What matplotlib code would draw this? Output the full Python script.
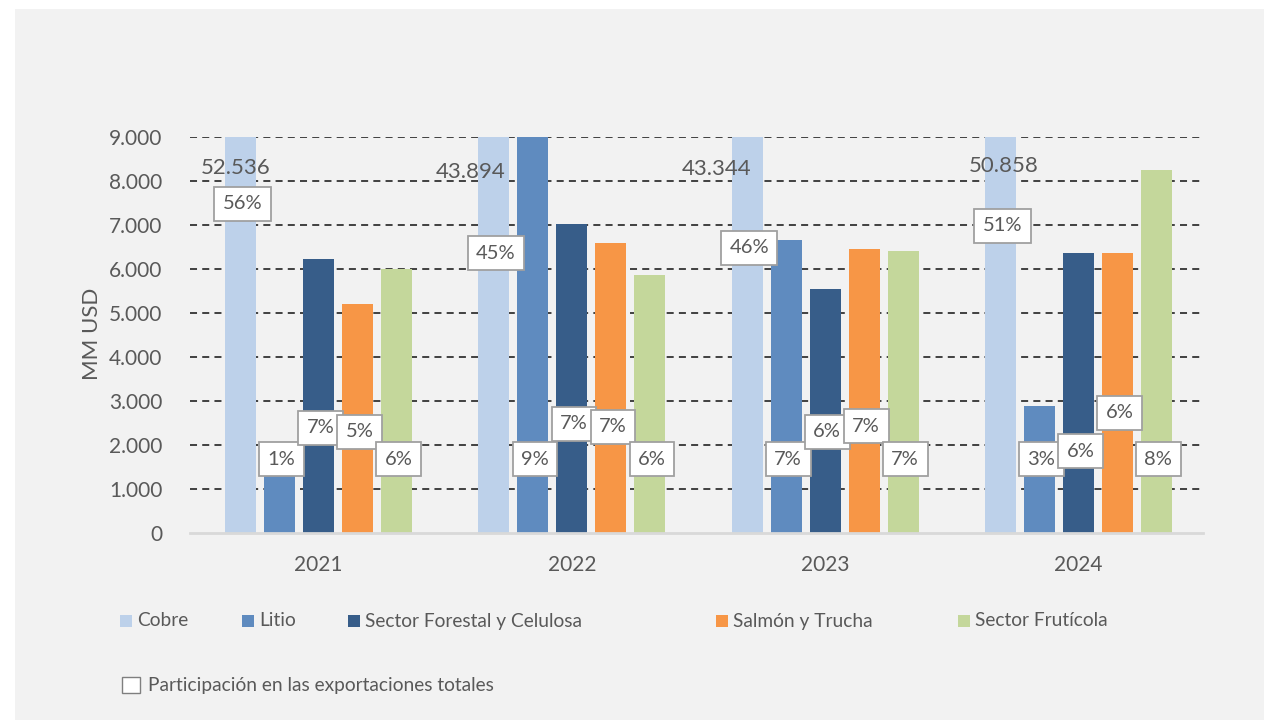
import numpy as np
import matplotlib
matplotlib.use("Agg")
import matplotlib.pyplot as plt
from matplotlib.patches import Rectangle

plt.rcParams["font.family"] = ["Lato", "DejaVu Sans"]

# data (MM USD); Cobre bars run off the top of the axis
years = ["2021", "2022", "2023", "2024"]
series = ["Cobre", "Litio", "Sector Forestal y Celulosa", "Salmón y Trucha", "Sector Frutícola"]
cobre = [52536, 43894, 43344, 50858]
litio = [1400, 9000, 6650, 2890]
forestal = [6220, 7020, 5550, 6360]
salmon = [5200, 6600, 6450, 6360]
fruticola = [6000, 5860, 6420, 8250]
# share of total exports (%)
share_cobre = [56, 45, 46, 51]
share_litio = [1, 9, 7, 3]
share_forestal = [7, 7, 6, 6]
share_salmon = [5, 7, 7, 6]
share_fruticola = [6, 6, 7, 8]

colors = ["#bdd1ea", "#5f8bbf", "#375d89", "#f79646", "#c4d79b"]
TEXT = "#595959"

W, H = 1265, 720
fig = plt.figure(figsize=(W / 100, H / 100), dpi=100)
fig.patch.set_facecolor("white")
fig.patches.append(Rectangle((15 / W, 0), (W - 16) / W, (H - 9) / H,
                             transform=fig.transFigure, facecolor="#f2f2f2",
                             edgecolor="none", zorder=-5))


def px(x, y):
    return x / W, 1 - y / H


x0, x1, ytop, ybot = 190, 1203, 137, 533
ax = fig.add_axes([x0 / W, 1 - ybot / H, (x1 - x0) / W, (ybot - ytop) / H])
ax.set_facecolor("none")
ax.set_zorder(1)

groups = np.arange(len(years))
step = 0.154
width = 0.122
vals = [cobre, litio, forestal, salmon, fruticola]
shares = [share_cobre, share_litio, share_forestal, share_salmon, share_fruticola]

for i, (v, c) in enumerate(zip(vals, colors)):
    ax.bar(groups + (i - 2) * step, v, width=width, color=c, zorder=3, label=series[i])

ax.set_xlim(-0.508, 3.492)
ax.set_ylim(0, 9000)
ax.set_yticks(np.arange(0, 9001, 1000))
ax.set_yticklabels([f"{t:,}".replace(",", ".") for t in range(0, 9001, 1000)],
                   fontsize=15, color=TEXT)
ax.set_xticks(groups)
ax.set_xticklabels(years, fontsize=15, color=TEXT)
ax.tick_params(axis="both", length=0)
ax.tick_params(axis="y", pad=20)
ax.tick_params(axis="x", pad=16)

for t in range(1000, 9001, 1000):
    ax.axhline(t, color="#111111", lw=1.1, dashes=(4.6, 3.4), zorder=1)
for s in ["top", "right", "left"]:
    ax.spines[s].set_visible(False)
ax.spines["bottom"].set_color("#d9d9d9")
ax.spines["bottom"].set_linewidth(2)
ax.spines["bottom"].set_zorder(4)

fig.text(92 / W, 1 - 334 / H, "MM USD", rotation=90, fontsize=16, color=TEXT,
         ha="center", va="center")

# Cobre value labels (bars are cut at 9.000)
val_dx = [-0.02, -0.09, -0.12, 0.015]
val_y = [8290, 8215, 8270, 8340]
for g in groups:
    ax.text(g - 2 * step + val_dx[g], val_y[g], f"{cobre[g]:,}".replace(",", "."),
            ha="center", va="center", fontsize=16, color=TEXT, zorder=6)

# share labels (boxes)
share_y = [
    [7480, 1680, 2390, 2300, 1680],
    [6360, 1680, 2480, 2410, 1680],
    [6480, 1680, 2300, 2430, 1680],
    [6980, 1680, 1860, 2730, 1680],
]
box = dict(boxstyle="square,pad=0.42", facecolor="white", edgecolor="#a0a0a0", lw=1.3)
for g in groups:
    for i in range(5):
        ax.text(g + (i - 2) * step + 0.008, share_y[g][i], f"{shares[i][g]}%",
                ha="center", va="center", fontsize=14.5, color=TEXT, bbox=box, zorder=7)

# legend, laid out like the original
leg_x = [120, 242, 348, 716, 958]
for name, c, lx in zip(series, colors, leg_x):
    fig.patches.append(Rectangle(px(lx, 627), 12 / W, 12 / H, transform=fig.transFigure,
                                 facecolor=c, edgecolor="none", zorder=2))
    fig.text(*px(lx + 17, 621), name, fontsize=13.8, color=TEXT, ha="left", va="center")

fig.patches.append(Rectangle(px(122, 693), 18 / W, 16 / H, transform=fig.transFigure,
                             facecolor="white", edgecolor="#7f7f7f", lw=1.0, zorder=2))
fig.text(*px(148, 686), "Participación en las exportaciones totales", fontsize=13.8,
         color=TEXT, ha="left", va="center")

fig.savefig("out.png", dpi=100)
